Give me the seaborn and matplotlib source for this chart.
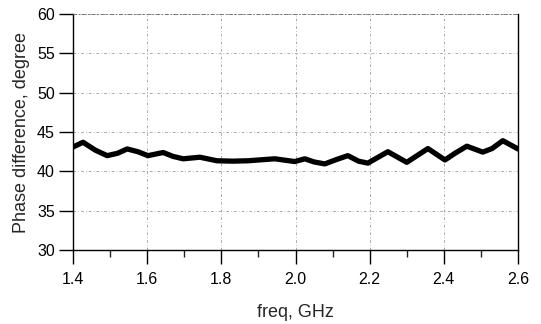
import matplotlib
matplotlib.use("Agg")
import matplotlib.pyplot as plt
import seaborn as sns
import pandas as pd
from matplotlib.ticker import MultipleLocator

freq_ghz = [1.400, 1.427, 1.460, 1.492, 1.520, 1.546, 1.575, 1.602, 1.643, 1.670, 1.697,
            1.742, 1.788, 1.830, 1.872, 1.944, 1.998, 2.025, 2.050, 2.079, 2.110, 2.141,
            2.170, 2.195, 2.249, 2.300, 2.357, 2.403, 2.430, 2.462, 2.505, 2.530, 2.559, 2.600]
phase_deg = [43.1, 43.7, 42.7, 42.0, 42.3, 42.85, 42.5, 42.0, 42.4, 41.9, 41.6,
             41.8, 41.35, 41.3, 41.35, 41.6, 41.25, 41.6, 41.2, 40.95, 41.5, 42.0,
             41.3, 41.05, 42.5, 41.15, 42.9, 41.45, 42.3, 43.2, 42.45, 42.9, 43.9, 42.85]

xticks = [1.4, 1.6, 1.8, 2.0, 2.2, 2.4, 2.6]
xtick_labels = ["1.4", "1.6", "1.8", "2.0", "2.2", "2.4", "2.6"]
yticks = [30, 35, 40, 45, 50, 55, 60]

sns.set_style("white")
plt.rcParams['font.family'] = ['Liberation Sans', 'DejaVu Sans']

df = pd.DataFrame({"freq": freq_ghz, "phase": phase_deg})

fig = plt.figure(figsize=(5.41, 3.24), dpi=100)
ax = fig.add_axes([0.135, 0.228, 0.8225, 0.729])

sns.lineplot(data=df, x="freq", y="phase", ax=ax, color="black", linewidth=3.8, zorder=3)

ax.set_xlim(1.4, 2.6)
ax.set_ylim(30, 60)
ax.set_xticks(xticks)
ax.set_xticklabels(xtick_labels)
ax.set_yticks(yticks)
ax.xaxis.set_minor_locator(MultipleLocator(0.1))

ax.grid(True, which="major", color="#8a8a8a", linestyle=(0, (4, 3, 1, 3)), linewidth=0.5)
ax.tick_params(axis="both", which="major", direction="out", length=10, width=1,
               labelsize=11.5, colors="black", pad=3)
ax.tick_params(axis="x", which="minor", direction="out", length=5, width=1, bottom=True)
ax.tick_params(axis="x", which="major", pad=6)
ax.tick_params(left=True, bottom=True)

for side in ["left", "bottom", "right"]:
    ax.spines[side].set_color("black")
    ax.spines[side].set_linewidth(1.0)
ax.spines["top"].set_color("#666666")
ax.spines["top"].set_linewidth(0.6)
ax.spines["top"].set_linestyle((0, (4, 3, 1, 3)))

ax.set_xlabel("freq, GHz", fontsize=13, labelpad=12)
ax.set_ylabel("Phase difference, degree", fontsize=13, labelpad=5)

fig.savefig("out.png", dpi=100)
